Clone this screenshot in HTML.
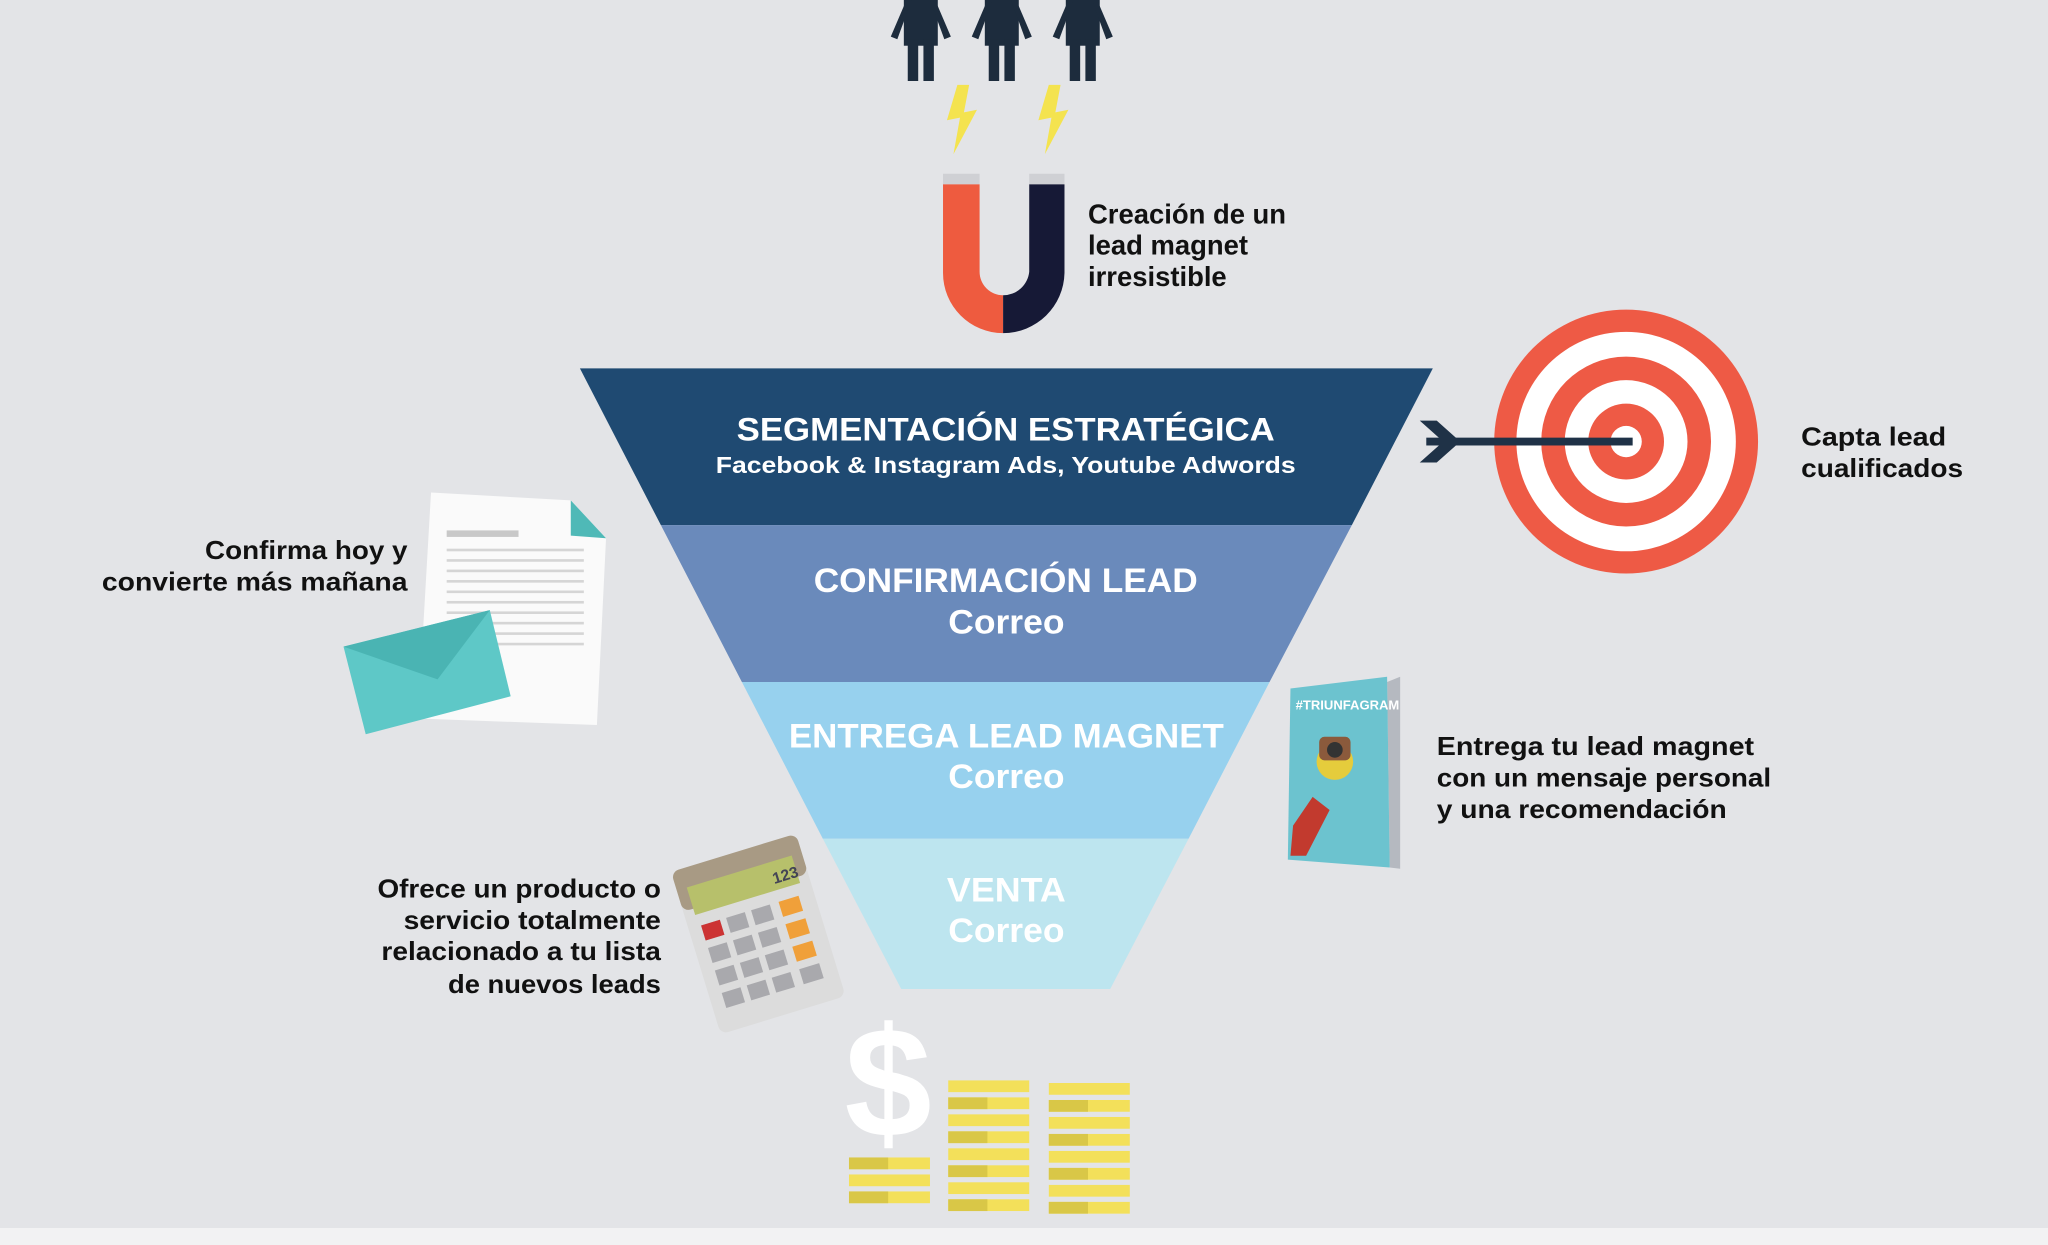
<!DOCTYPE html>
<html><head><meta charset="utf-8"><style>
html,body{margin:0;padding:0;background:#e3e4e7;}
svg{display:block;}
text{font-family:"Liberation Sans",sans-serif;font-weight:bold;}
</style></head><body>
<svg width="2048" height="1245" viewBox="0 0 1568 953" preserveAspectRatio="none" xmlns="http://www.w3.org/2000/svg">
<rect width="1568" height="953" fill="#e3e4e7"/>
<rect y="940" width="1568" height="13" fill="#f2f2f3"/>

<!-- people -->
<g fill="#1d2c3d">
 <g transform="translate(682,0)"><rect x="10" y="0" width="26" height="35"/><rect x="13" y="30" width="8" height="32"/><rect x="25" y="30" width="8" height="32"/><polygon points="0,28 12,0 16,0 5,30"/><polygon points="46,28 34,0 30,0 41,30"/></g>
 <g transform="translate(744,0)"><rect x="10" y="0" width="26" height="35"/><rect x="13" y="30" width="8" height="32"/><rect x="25" y="30" width="8" height="32"/><polygon points="0,28 12,0 16,0 5,30"/><polygon points="46,28 34,0 30,0 41,30"/></g>
 <g transform="translate(806,0)"><rect x="10" y="0" width="26" height="35"/><rect x="13" y="30" width="8" height="32"/><rect x="25" y="30" width="8" height="32"/><polygon points="0,28 12,0 16,0 5,30"/><polygon points="46,28 34,0 30,0 41,30"/></g>
</g>
<polygon points="733,65 725,92 735,90 730,118 748,84 738,86 742,65" fill="#f4e34f"/>
<polygon points="803,65 795,92 805,90 800,118 818,84 808,86 812,65" fill="#f4e34f"/>

<!-- magnet -->
<path d="M722,141 L750,141 L750,208 A18,18 0 0 0 768,226 L768,255 A46,46 0 0 1 722,209 Z" fill="#ee5b3f"/>
<path d="M815,141 L788,141 L788,208 A20,20 0 0 1 768,226 L768,255 A47,47 0 0 0 815,209 Z" fill="#161936"/>
<rect x="722" y="133" width="28" height="8" fill="#cfd0d4"/>
<rect x="788" y="133" width="27" height="8" fill="#cfd0d4"/>
<text font-size="21" fill="#111"><tspan x="833" y="171">Creación de un</tspan><tspan x="833" y="195">lead magnet</tspan><tspan x="833" y="219">irresistible</tspan></text>

<!-- funnel -->
<polygon points="444,282 1097,282 1035,402 506,402" fill="#1f4a72"/>
<polygon points="506,402 1035,402 972,522 568,522" fill="#6a8abb"/>
<polygon points="568,522 972,522 910,642 630,642" fill="#97d1ee"/>
<polygon points="630,642 910,642 850,757 690,757" fill="#bde5ef"/>
<g fill="#fff">
<text x="564" y="337" font-size="25" textLength="412" lengthAdjust="spacingAndGlyphs">SEGMENTACIÓN ESTRATÉGICA</text>
<text x="548" y="362" font-size="18" textLength="444" lengthAdjust="spacingAndGlyphs">Facebook &amp; Instagram Ads, Youtube Adwords</text>
<text x="623" y="453" font-size="26" textLength="294" lengthAdjust="spacingAndGlyphs">CONFIRMACIÓN LEAD</text>
<text x="726" y="485" font-size="26" textLength="89" lengthAdjust="spacingAndGlyphs">Correo</text>
<text x="604" y="572" font-size="26" textLength="333" lengthAdjust="spacingAndGlyphs">ENTREGA LEAD MAGNET</text>
<text x="726" y="603" font-size="26" textLength="89" lengthAdjust="spacingAndGlyphs">Correo</text>
<text x="725" y="690" font-size="26" textLength="91" lengthAdjust="spacingAndGlyphs">VENTA</text>
<text x="726" y="721" font-size="26" textLength="89" lengthAdjust="spacingAndGlyphs">Correo</text>
</g>

<!-- target -->
<circle cx="1245" cy="338" r="101" fill="#ee5a45"/>
<circle cx="1245" cy="338" r="84" fill="#fff"/>
<circle cx="1245" cy="338" r="65" fill="#ee5a45"/>
<circle cx="1245" cy="338" r="47" fill="#fff"/>
<circle cx="1245" cy="338" r="29" fill="#ee5a45"/>
<circle cx="1245" cy="338" r="12" fill="#fff"/>
<rect x="1092" y="335" width="158" height="6" fill="#1f3247"/>
<polygon points="1087,322 1100,322 1118,338 1100,354 1087,354 1105,338" fill="#1f3247"/>
<text font-size="20" fill="#111"><tspan x="1379" y="341" textLength="111" lengthAdjust="spacingAndGlyphs">Capta lead</tspan><tspan x="1379" y="365" textLength="124" lengthAdjust="spacingAndGlyphs">cualificados</tspan></text>

<!-- document + envelope -->
<polygon points="330,377 437,383 464,412 457,555 320,550" fill="#fafafa"/>
<polygon points="437,383 464,412 437,410" fill="#4fb9b7"/>
<rect x="342" y="406" width="55" height="5" fill="#c8c8c8"/>
<g fill="#d5d5d5">
<rect x="342" y="420" width="105" height="2"/><rect x="342" y="428" width="105" height="2"/><rect x="342" y="436" width="105" height="2"/><rect x="342" y="444" width="105" height="2"/><rect x="342" y="452" width="105" height="2"/><rect x="342" y="460" width="105" height="2"/><rect x="342" y="468" width="105" height="2"/><rect x="342" y="476" width="105" height="2"/><rect x="342" y="484" width="105" height="2"/><rect x="342" y="492" width="105" height="2"/>
</g>
<polygon points="263,495 375,467 391,533 280,562" fill="#5ec8c7"/>
<polygon points="263,495 375,467 335,520" fill="#4ab4b3"/>
<text font-size="20" fill="#111"><tspan x="157" y="428" textLength="155" lengthAdjust="spacingAndGlyphs">Confirma hoy y</tspan><tspan x="78" y="452" textLength="234" lengthAdjust="spacingAndGlyphs">convierte más mañana</tspan></text>

<!-- book -->
<polygon points="1062,522 1072,518 1072,665 1064,664" fill="#b5b9c0"/>
<polygon points="988,527 1062,518 1064,664 986,658" fill="#6cc3cf"/>
<text x="992" y="543" font-size="10" fill="#fff">#TRIUNFAGRAM</text>
<circle cx="1022" cy="583" r="14" fill="#e5cc3c"/>
<rect x="1010" y="564" width="24" height="18" rx="4" fill="#8b5a3c"/>
<circle cx="1022" cy="574" r="6" fill="#333"/>
<polygon points="990,632 1005,610 1018,620 1000,655 988,655" fill="#c23a2e"/>
<text font-size="20" fill="#111"><tspan x="1100" y="578" textLength="243" lengthAdjust="spacingAndGlyphs">Entrega tu lead magnet</tspan><tspan x="1100" y="602" textLength="256" lengthAdjust="spacingAndGlyphs">con un mensaje personal</tspan><tspan x="1100" y="626" textLength="222" lengthAdjust="spacingAndGlyphs">y una recomendación</tspan></text>

<!-- calculator -->
<g transform="rotate(-17 580 713)">
<rect x="530" y="650" width="100" height="130" rx="6" fill="#dcdcdc"/>
<rect x="530" y="650" width="100" height="32" rx="6" fill="#a89a84"/>
<rect x="538" y="665" width="84" height="22" fill="#b7c06b"/>
<text x="603" y="682" font-size="12" fill="#445" font-weight="normal">123</text>
<g fill="#a9a9ad">
<rect x="540" y="696" width="15" height="12"/><rect x="560" y="696" width="15" height="12"/><rect x="580" y="696" width="15" height="12"/>
<rect x="540" y="714" width="15" height="12"/><rect x="560" y="714" width="15" height="12"/><rect x="580" y="714" width="15" height="12"/>
<rect x="540" y="732" width="15" height="12"/><rect x="560" y="732" width="15" height="12"/><rect x="580" y="732" width="15" height="12"/>
<rect x="540" y="750" width="15" height="12"/><rect x="560" y="750" width="15" height="12"/><rect x="580" y="750" width="15" height="12"/>
</g>
<rect x="540" y="696" width="15" height="12" fill="#c33"/>
<rect x="602" y="696" width="16" height="12" fill="#f0a03a"/><rect x="602" y="714" width="16" height="12" fill="#f0a03a"/><rect x="602" y="732" width="16" height="12" fill="#f0a03a"/><rect x="602" y="750" width="16" height="12" fill="#a9a9ad"/>
</g>
<text font-size="20" fill="#111"><tspan x="289" y="687" textLength="217" lengthAdjust="spacingAndGlyphs">Ofrece un producto o</tspan><tspan x="309" y="711" textLength="197" lengthAdjust="spacingAndGlyphs">servicio totalmente</tspan><tspan x="292" y="735" textLength="214" lengthAdjust="spacingAndGlyphs">relacionado a tu lista</tspan><tspan x="343" y="760" textLength="163" lengthAdjust="spacingAndGlyphs">de nuevos leads</tspan></text>

<!-- dollar + coins -->
<text x="680" y="870" font-size="120" fill="#fff" text-anchor="middle">$</text>
<g fill="#f3e05a">
<rect x="650" y="886" width="62" height="9"/><rect x="650" y="899" width="62" height="9"/><rect x="650" y="912" width="62" height="9"/>
<rect x="726" y="827" width="62" height="9"/><rect x="726" y="840" width="62" height="9"/><rect x="726" y="853" width="62" height="9"/><rect x="726" y="866" width="62" height="9"/><rect x="726" y="879" width="62" height="9"/><rect x="726" y="892" width="62" height="9"/><rect x="726" y="905" width="62" height="9"/><rect x="726" y="918" width="62" height="9"/>
<rect x="803" y="829" width="62" height="9"/><rect x="803" y="842" width="62" height="9"/><rect x="803" y="855" width="62" height="9"/><rect x="803" y="868" width="62" height="9"/><rect x="803" y="881" width="62" height="9"/><rect x="803" y="894" width="62" height="9"/><rect x="803" y="907" width="62" height="9"/><rect x="803" y="920" width="62" height="9"/>
</g>
<g fill="#d9c747">
<rect x="650" y="886" width="30" height="9"/><rect x="650" y="912" width="30" height="9"/>
<rect x="726" y="840" width="30" height="9"/><rect x="726" y="866" width="30" height="9"/><rect x="726" y="892" width="30" height="9"/><rect x="726" y="918" width="30" height="9"/>
<rect x="803" y="842" width="30" height="9"/><rect x="803" y="868" width="30" height="9"/><rect x="803" y="894" width="30" height="9"/><rect x="803" y="920" width="30" height="9"/>
</g>
</svg>
</body></html>
